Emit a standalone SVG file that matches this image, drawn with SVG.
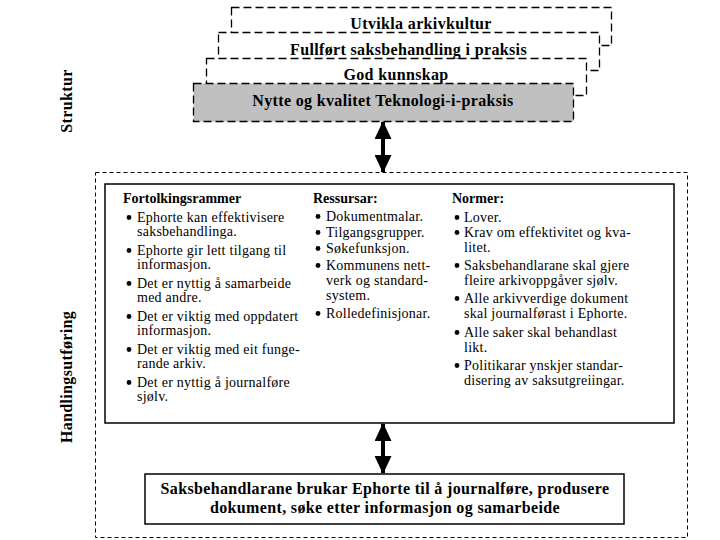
<svg xmlns="http://www.w3.org/2000/svg" width="720" height="540" viewBox="0 0 720 540">
<style>
.dash{fill:#fff;stroke:#000;stroke-width:1.3;stroke-dasharray:8,4}
.odash{fill:none;stroke:#000;stroke-width:1;stroke-dasharray:4,3}
.solid{fill:#fff;stroke:#000;stroke-width:1.5}
.h{font-weight:bold;font-size:16px;letter-spacing:0.35px;text-anchor:middle;fill:#000}
.ch{font-weight:bold;font-size:14px;fill:#000}
.t{font-size:14px;letter-spacing:0.25px;fill:#000}
.b{fill:#000}
.conn{stroke:#000;stroke-width:4;fill:none}
</style>
<defs>
<marker id="ah" markerUnits="userSpaceOnUse" markerWidth="18" markerHeight="17" refX="17" refY="8.5" orient="auto-start-reverse" viewBox="0 0 18 17">
<path d="M0,0 L18,8.5 L0,17 z" fill="#000"/>
</marker>
</defs>
<g font-family="Liberation Serif, Times New Roman, serif">
<g id="labels">
<text class="h" transform="translate(72,101) rotate(-90)">Struktur</text>
<text class="h" transform="translate(72,377) rotate(-90)">Handlingsutføring</text>
</g>

<g id="node-arkivkultur">
<rect class="dash" x="231.5" y="7.5" width="380" height="38"/>
<text class="h" x="421" y="29">Utvikla arkivkultur</text>
</g>
<g id="node-saksbehandling">
<rect class="dash" x="218.5" y="32.5" width="381" height="38"/>
<text class="h" x="408.5" y="55">Fullført saksbehandling i praksis</text>
</g>
<g id="node-kunnskap">
<rect class="dash" x="206.5" y="58.5" width="380" height="37"/>
<text class="h" x="396" y="80">God kunnskap</text>
</g>
<g id="node-nytte">
<rect class="dash" x="193.5" y="83.5" width="380" height="38" style="fill:#c0c0c0"/>
<text class="h" x="383" y="105.5">Nytte og kvalitet Teknologi-i-praksis</text>
</g>

<g id="node-handling">
<rect class="odash" x="95.5" y="172.5" width="592" height="365"/>
</g>

<g id="node-rammer">
<rect class="solid" x="105" y="184" width="569" height="239"/>
<text class="ch" x="123" y="203">Fortolkingsrammer</text>
<g class="b">
<circle cx="129" cy="217.5" r="2.4"/><circle cx="129" cy="250.5" r="2.4"/><circle cx="129" cy="283.5" r="2.4"/><circle cx="129" cy="316.5" r="2.4"/><circle cx="129" cy="349.5" r="2.4"/><circle cx="129" cy="382.5" r="2.4"/>
</g>
<text class="t" x="137" y="221.5">Ephorte kan effektivisere</text>
<text class="t" x="137" y="235.5">saksbehandlinga.</text>
<text class="t" x="137" y="254.5">Ephorte gir lett tilgang til</text>
<text class="t" x="137" y="268.5">informasjon.</text>
<text class="t" x="137" y="287.5">Det er nyttig å samarbeide</text>
<text class="t" x="137" y="301.5">med andre.</text>
<text class="t" x="137" y="320.5">Det er viktig med oppdatert</text>
<text class="t" x="137" y="334.5">informasjon.</text>
<text class="t" x="137" y="353.5">Det er viktig med eit funge-</text>
<text class="t" x="137" y="367.5">rande arkiv.</text>
<text class="t" x="137" y="386.5">Det er nyttig å journalføre</text>
<text class="t" x="137" y="400.5">sjølv.</text>

<text class="ch" x="313" y="203">Ressursar:</text>
<g class="b">
<circle cx="318" cy="216.5" r="2.4"/><circle cx="318" cy="232.5" r="2.4"/><circle cx="318" cy="248.5" r="2.4"/><circle cx="318" cy="265.5" r="2.4"/><circle cx="318" cy="313.5" r="2.4"/>
</g>
<text class="t" x="326" y="220.5">Dokumentmalar.</text>
<text class="t" x="326" y="236.5">Tilgangsgrupper.</text>
<text class="t" x="326" y="252.5">Søkefunksjon.</text>
<text class="t" x="326" y="269.5">Kommunens nett-</text>
<text class="t" x="326" y="284.5">verk og standard-</text>
<text class="t" x="326" y="299.5">system.</text>
<text class="t" x="326" y="317.5">Rolledefinisjonar.</text>

<text class="ch" x="452" y="203">Normer:</text>
<g class="b">
<circle cx="457" cy="217.5" r="2.4"/><circle cx="457" cy="232.5" r="2.4"/><circle cx="457" cy="265.5" r="2.4"/><circle cx="457" cy="298.5" r="2.4"/><circle cx="457" cy="332.5" r="2.4"/><circle cx="457" cy="365.5" r="2.4"/>
</g>
<text class="t" x="464" y="221.5">Lover.</text>
<text class="t" x="464" y="236.5">Krav om effektivitet og kva-</text>
<text class="t" x="464" y="251.5">litet.</text>
<text class="t" x="464" y="269.5">Saksbehandlarane skal gjere</text>
<text class="t" x="464" y="284.5">fleire arkivoppgåver sjølv.</text>
<text class="t" x="464" y="302.5">Alle arkivverdige dokument</text>
<text class="t" x="464" y="317.5">skal journalførast i Ephorte.</text>
<text class="t" x="464" y="336.5">Alle saker skal behandlast</text>
<text class="t" x="464" y="351.5">likt.</text>
<text class="t" x="464" y="369.5">Politikarar ynskjer standar-</text>
<text class="t" x="464" y="384.5">disering av saksutgreiingar.</text>
</g>

<g id="node-bruk">
<rect class="solid" x="145" y="474" width="479" height="50"/>
<text class="h" x="385" y="494">Saksbehandlarane brukar Ephorte til å journalføre, produsere</text>
<text class="h" x="385" y="513">dokument, søke etter informasjon og samarbeide</text>
</g>
</g>
<g id="connectors">
<line class="conn" x1="383" y1="122" x2="383" y2="172" marker-start="url(#ah)" marker-end="url(#ah)"/>
<line class="conn" x1="383" y1="424" x2="383" y2="473" marker-start="url(#ah)" marker-end="url(#ah)"/>
</g>
</svg>
